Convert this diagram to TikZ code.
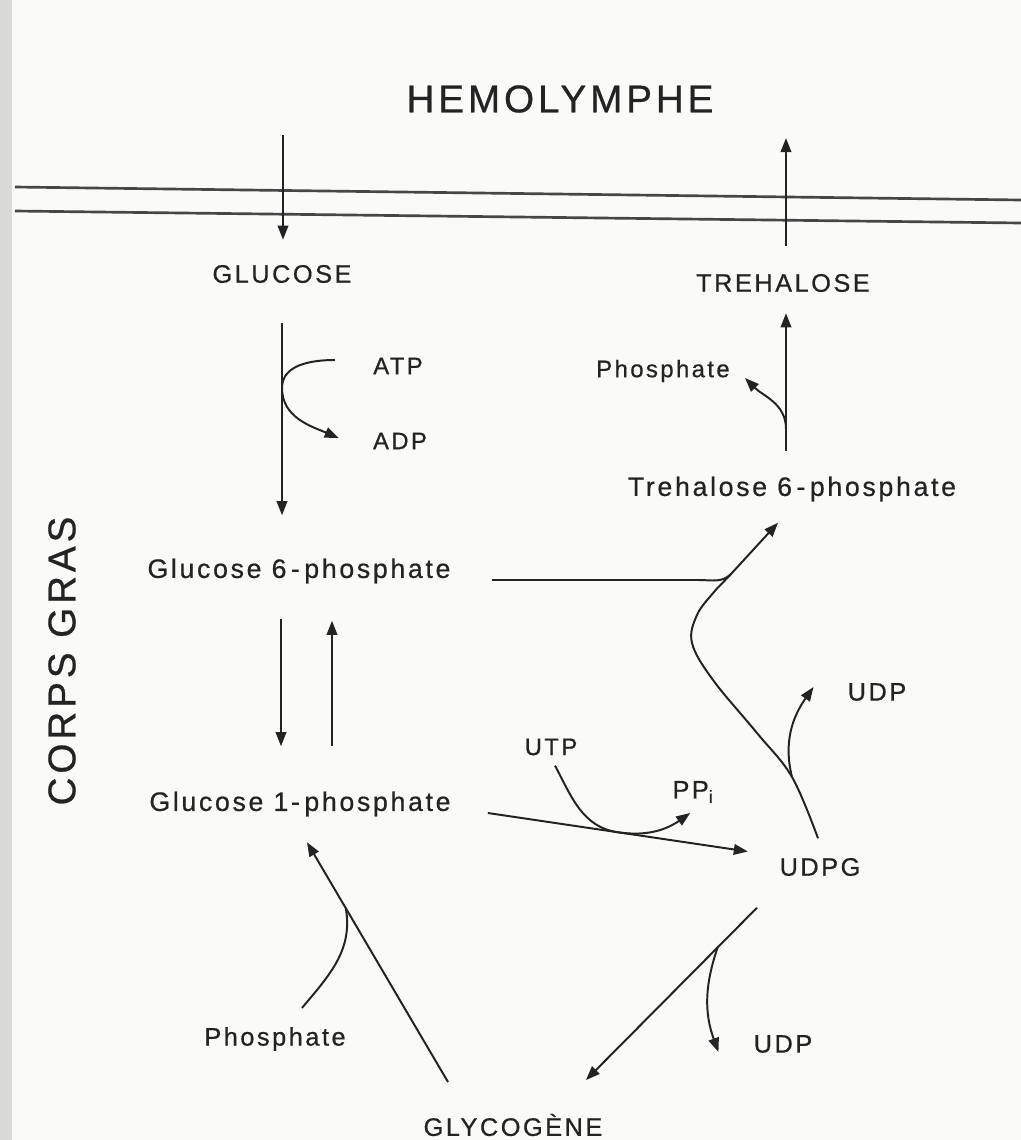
\documentclass[tikz,border=0pt]{standalone}
\usepackage{fontspec}
\setmainfont{Liberation Sans}[LetterSpace=10, FakeBold=0.6]
\usetikzlibrary{arrows.meta, calc}
\definecolor{DG}{RGB}{35,35,35}
\definecolor{MG}{RGB}{70,70,70}
\definecolor{PG}{RGB}{250,250,248}
\definecolor{EG}{RGB}{218,218,214}

\begin{document}
\begin{tikzpicture}[x=0.025cm, y=-0.025cm,
  big/.style={inner sep=0pt, text=DG, font=\fontsize{27.5}{30}\selectfont},
  lab/.style={inner sep=0pt, text=DG, font=\fontsize{18}{20}\selectfont},
  lng/.style={inner sep=0pt, text=DG, font=\fontsize{19}{21}\selectfont},
  sml/.style={inner sep=0pt, text=DG, font=\fontsize{17}{19}\selectfont},
  ln/.style={line width=1.4pt, draw=DG},
  arr/.style={ln, -{Triangle[length=10pt,width=7.5pt]}},
  mem/.style={line width=1.9pt, draw=MG}
]
\fill[PG] (0,0) rectangle (1021,1140);
\fill[EG] (0,0) rectangle (12,1140);
\useasboundingbox (0,0) rectangle (1021,1140);

% Nodes
\node[big] (hemo) at (560,99) {HEMOLYMPHE};
\node[big, rotate=90] (corps) at (62,661) {CORPS GRAS};
\node[lab] (glu)  at (282,274)  {GLUCOSE};
\node[lab] (tre)  at (783,283)  {TREHALOSE};
\node[sml] (atp)  at (398,366)  {ATP};
\node[sml] (adp)  at (400,441)  {ADP};
\node[sml] (phosA) at (663,371) {Phosphate};
\node[lng] (tsix) at (792,489)  {Trehalose 6\,-\,phosphate};
\node[lng] (gsix) at (299,571)  {Glucose 6\,-\,phosphate};
\node[lab] (udpA) at (877,692)  {UDP};
\node[sml] (utp)  at (551,747)  {UTP};
\node[lab] (ppi)  at (693,792)  {PP\textsubscript{i}};
\node[lng] (gone) at (300,804)  {Glucose 1-\,phosphate};
\node[lab] (udpg) at (820,867)  {UDPG};
\node[lab] (phosB) at (275,1039) {Phosphate};
\node[lab] (udpB) at (783,1044) {UDP};
\node[lab] (glyc) at (513,1125) {GLYCOGÈNE};

% Membrane
\draw[mem] (15,187) -- (1021,200);
\draw[mem] (15,211) -- (1021,223);

% Connectors
\coordinate (hin)  at (283,135);
\coordinate (hout) at (786,138);
\draw[arr] (hin) -- ([shift={(1,-25)}]glu.north);
\draw[arr] ([shift={(3,-28)}]tre.north) -- (hout);

\draw[arr] ([shift={(0,40)}]glu.south) -- coordinate[pos=0.337] (jA) ([shift={(-17,-43)}]gsix.north);
\draw[arr] ([shift={(-38,-6)}]atp.west) to[out=180,in=90] (jA) to[out=-90,in=157] ([shift={(-34,-3)}]adp.west);

\draw[arr] ([shift={(-6,-25.5)}]tsix.north) -- coordinate[pos=0.158] (jT) ([shift={(3,21)}]tre.south);
\draw[arr] (jT) to[out=90,in=-45] ([shift={(15,7)}]phosA.east);

\draw[arr] ([shift={(-18,35)}]gsix.south) -- ([shift={(-19,-45)}]gone.north);
\draw[arr] ([shift={(32,-45)}]gone.north) -- ([shift={(33,37)}]gsix.south);

% UDPG -> trehalose 6-phosphate
\coordinate (sA) at ([shift={(-2,-19.5)}]udpg.north);
\coordinate (sB) at ([shift={(-14,21)}]tsix.south);
\coordinate (bU) at (792,777);
\coordinate (jG) at (731,574);
\draw[arr] plot[smooth, tension=0.6] coordinates {(sA) (bU) (757,733) (713,680) (692,643) (697,615) (714,592) (jG) (sB)};
\draw[ln] ([shift={(41,9)}]gsix.east) -- ++(207,0) to[out=0,in=-135] (jG);
\draw[arr] (bU) to[out=104,in=235] ([shift={(-34,-5)}]udpA.west);

\draw[arr] ([shift={(37,9)}]gone.east) -- coordinate[pos=0.5] (jU) ([shift={(-31.5,-15.5)}]udpg.west);
\draw[arr] ([shift={(4,10)}]utp.south) to[out=-62,in=171.5] (jU) to[out=-8.5,in=215] ([shift={(18,21)}]ppi.west);

\draw[arr] ([shift={(-63,31.5)}]udpg.south) -- coordinate[pos=0.23] (jL) ([shift={(73,-45)}]glyc.center);
\draw[arr] (jL) to[out=-109,in=110] ([shift={(-35,8)}]udpB.west);

\draw[arr] ([shift={(-65,-43)}]glyc.center) -- coordinate[pos=0.725] (jP) ([shift={(7,25.5)}]gone.south);
\draw[ln] ([shift={(27,-19)}]phosB.north) to[out=50,in=-80] (jP);
\end{tikzpicture}
\end{document}
